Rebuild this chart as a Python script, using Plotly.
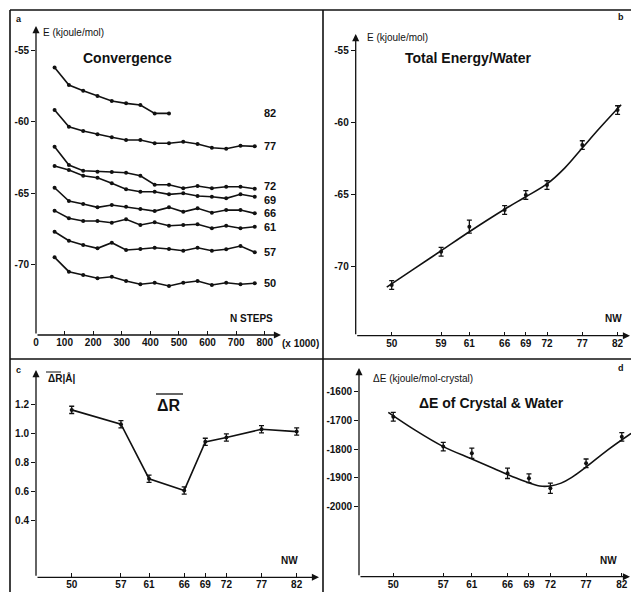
import plotly.graph_objects as go

# ---------------- data ----------------
steps = [65, 115, 165, 215, 265, 315, 365, 415, 465, 515, 565, 615, 665, 715, 765]
E82 = [-56.21, -57.44, -57.84, -58.21, -58.56, -58.72, -58.84, -59.42, -59.42]
E77 = [-59.19, -60.35, -60.65, -60.88, -61.09, -61.28, -61.28, -61.51, -61.51, -61.40, -61.56, -61.82, -61.89, -61.68, -61.72]
E72 = [-61.75, -63.03, -63.42, -63.49, -63.51, -63.56, -63.77, -64.40, -64.40, -64.65, -64.49, -64.65, -64.54, -64.54, -64.68]
E69 = [-63.09, -63.37, -63.77, -63.91, -64.30, -64.72, -64.89, -64.89, -65.07, -65.00, -65.19, -65.24, -65.35, -65.07, -65.24]
E66 = [-64.61, -65.54, -65.75, -65.98, -65.82, -65.94, -66.10, -66.24, -65.98, -66.29, -66.05, -66.36, -66.17, -66.17, -66.40]
E61 = [-66.21, -66.74, -66.93, -66.93, -67.05, -66.81, -67.21, -67.02, -67.26, -67.21, -67.16, -67.44, -67.26, -67.44, -67.33]
E57 = [-67.68, -68.31, -68.61, -68.84, -68.45, -68.96, -68.89, -68.80, -68.89, -69.01, -68.80, -69.01, -68.91, -68.68, -69.12]
E50 = [-69.47, -70.47, -70.70, -70.93, -70.82, -71.12, -71.35, -71.24, -71.47, -71.24, -71.12, -71.40, -71.24, -71.35, -71.28]
conv_series = [("82", E82), ("77", E77), ("72", E72), ("69", E69), ("66", E66), ("61", E61), ("57", E57), ("50", E50)]
step_ticks = [0, 100, 200, 300, 400, 500, 600, 700, 800]
step_ticktext = ["0", "100", "200", "300", "400", "500", "600", "700", "800"]

NW = [50, 57, 61, 66, 69, 72, 77, 82]
NW_ticktext_b = ["50", "59", "61", "66", "69", "72", "77", "82"]
NW_ticktext = ["50", "57", "61", "66", "69", "72", "77", "82"]

b_E = [-71.32, -69.01, -67.27, -66.11, -65.07, -64.38, -61.60, -59.17]
b_err = [0.3, 0.3, 0.45, 0.3, 0.3, 0.3, 0.3, 0.3]
b_fit_NW = [49.3, 53, 57, 61, 66, 69, 72, 74.5, 77, 79.5, 82.5]
b_fit_E = [-71.47, -70.25, -68.94, -67.62, -66.06, -65.19, -64.30, -63.20, -61.80, -60.40, -58.80]

c_R = [1.166, 1.067, 0.69, 0.609, 0.945, 0.975, 1.032, 1.016]
c_err = [0.025, 0.025, 0.025, 0.025, 0.025, 0.025, 0.025, 0.025]

d_E = [-1687, -1791, -1814, -1884, -1901, -1936, -1849, -1757]
d_err = [15, 15, 18, 18, 15, 18, 15, 15]
d_fit_NW = [49.3, 53, 57, 61, 64, 66, 68, 70.5, 72, 73.5, 75, 77, 80, 83.3]
d_fit_E = [-1672, -1733, -1791, -1834, -1866, -1888, -1908, -1928, -1928, -1918, -1898, -1862, -1803, -1745]

E_ticks = [-55, -60, -65, -70]
E_ticktext = ["-55", "-60", "-65", "-70"]
R_ticks = [1.2, 1.0, 0.8, 0.6, 0.4]
R_ticktext = ["1.2", "1.0", "0.8", "0.6", "0.4"]
dE_ticks = [-1600, -1700, -1800, -1900, -2000]
dE_ticktext = ["-1600", "-1700", "-1800", "-1900", "-2000"]

# ---------------- layout helpers ----------------
W, H = 631, 592
FONT = "Arial, Liberation Sans, Helvetica, sans-serif"
INK = "#111111"


def px(x):
    return x / W


def py(y):
    return 1 - y / H


tickfont = dict(family=FONT, size=10, color=INK, weight="bold")

fig = go.Figure()

# panel a
for name, vals in conv_series:
    fig.add_trace(go.Scatter(x=steps[:len(vals)], y=vals, mode="lines+markers",
                             line=dict(color=INK, width=1.6),
                             marker=dict(size=4, color=INK),
                             xaxis="x", yaxis="y", showlegend=False, name=name))

# panel b
fig.add_trace(go.Scatter(x=b_fit_NW, y=b_fit_E, mode="lines", line=dict(color=INK, width=1.6, shape="spline"),
                         xaxis="x2", yaxis="y2", showlegend=False))
fig.add_trace(go.Scatter(x=NW, y=b_E, mode="markers", marker=dict(size=4, color=INK),
                         error_y=dict(type="data", array=b_err, visible=True, thickness=1.3, width=2.5, color=INK),
                         xaxis="x2", yaxis="y2", showlegend=False))

# panel c
fig.add_trace(go.Scatter(x=NW, y=c_R, mode="lines+markers", line=dict(color=INK, width=1.6),
                         marker=dict(size=4, color=INK),
                         error_y=dict(type="data", array=c_err, visible=True, thickness=1.3, width=2.5, color=INK),
                         xaxis="x3", yaxis="y3", showlegend=False))

# panel d
fig.add_trace(go.Scatter(x=d_fit_NW, y=d_fit_E, mode="lines", line=dict(color=INK, width=1.6, shape="spline"),
                         xaxis="x4", yaxis="y4", showlegend=False))
fig.add_trace(go.Scatter(x=NW, y=d_E, mode="markers", marker=dict(size=4, color=INK),
                         error_y=dict(type="data", array=d_err, visible=True, thickness=1.3, width=2.5, color=INK),
                         xaxis="x4", yaxis="y4", showlegend=False))

common = dict(showgrid=False, zeroline=False, showline=False, tickfont=tickfont,
              tickcolor=INK, tickwidth=1, ticklen=4, automargin=False, fixedrange=True)

layout = dict(
    width=W, height=H, margin=dict(l=0, r=0, t=0, b=0),
    paper_bgcolor="white", plot_bgcolor="rgba(0,0,0,0)",
    showlegend=False,
    xaxis=dict(domain=[px(36), px(278)], range=[0, 846.2], anchor="y", tickmode="array",
               tickvals=step_ticks, ticktext=step_ticktext, ticks="inside", **common),
    yaxis=dict(domain=[py(335), py(28)], range=[-74.89, -53.46], anchor="x", tickmode="array",
               tickvals=E_ticks, ticktext=E_ticktext, ticks="outside", **common),
    xaxis2=dict(domain=[px(355.7), 1.0], range=[44.9, 83.9], anchor="y2", tickmode="array",
                tickvals=NW, ticktext=NW_ticktext_b, ticks="inside", **common),
    yaxis2=dict(domain=[py(335.7), py(30)], range=[-74.84, -53.61], anchor="x2", tickmode="array",
                tickvals=E_ticks, ticktext=E_ticktext, ticks="outside", **common),
    xaxis3=dict(domain=[px(36), px(317)], range=[44.92, 84.89], anchor="y3", tickmode="array",
                tickvals=NW, ticktext=NW_ticktext, ticks="inside", **common),
    yaxis3=dict(domain=[py(577.3), py(372)], range=[0.0084, 1.428], anchor="x3", tickmode="array",
                tickvals=R_ticks, ticktext=R_ticktext, ticks="outside", **common),
    xaxis4=dict(domain=[px(359), 1.0], range=[45.2, 83.29], anchor="y4", tickmode="array",
                tickvals=NW, ticktext=NW_ticktext, ticks="inside", **common),
    yaxis4=dict(domain=[py(576.7), py(370)], range=[-2243.5, -1524.5], anchor="x4", tickmode="array",
                tickvals=dE_ticks, ticktext=dE_ticktext, ticks="outside", **common),
)
fig.update_layout(**layout)

ann = []


def arrow(xt, yt, xs, ys):
    ann.append(dict(x=px(xt), y=py(yt), xref="paper", yref="paper", ax=xs - xt, ay=ys - yt,
                    axref="pixel", ayref="pixel", text="", showarrow=True, arrowhead=2,
                    arrowsize=1.1, arrowwidth=1.3, arrowcolor=INK))


arrow(36, 26, 36, 335)
arrow(281, 335, 36, 335)
arrow(355.7, 34, 355.7, 335.7)
arrow(630, 335.7, 355.7, 335.7)
arrow(36, 370, 36, 577.3)
arrow(319, 577.3, 36, 577.3)
arrow(359, 368, 359, 576.7)
arrow(630, 576.7, 359, 576.7)


def text(x, y, s, size=10, xanchor="left", bold=False):
    ann.append(dict(x=px(x), y=py(y), xref="paper", yref="paper", text=s, showarrow=False,
                    xanchor=xanchor, yanchor="middle",
                    font=dict(family=FONT, size=size, color=INK, weight="bold" if bold else "normal")))


# panel letters
text(14, 19, "a", 9, bold=True)
text(626, 17, "b", 9, "right", bold=True)
text(14, 370, "c", 9, bold=True)
text(626, 368, "d", 9, "right", bold=True)

# axis titles
text(41, 33, "E (kjoule/mol)", 10)
text(365, 37, "E (kjoule/mol)", 10)
text(46, 378, "ΔR|Å|", 10, bold=True)
text(371, 378, "ΔE (kjoule/mol-crystal)", 10)
text(252, 318, "N STEPS", 10, "center", bold=True)
text(280, 344, "(x 1000)", 10, bold=True)
text(613, 318, "NW", 10, "center", bold=True)
text(289, 560, "NW", 10, "center", bold=True)
text(608, 560, "NW", 10, "center", bold=True)

# panel titles
text(127, 58, "Convergence", 14, "center", bold=True)
text(468, 58, "Total Energy/Water", 14, "center", bold=True)
text(169, 405, "ΔR", 16, "center", bold=True)
text(491, 403, "ΔE of Crystal & Water", 14, "center", bold=True)

fig.update_layout(annotations=ann)

# series labels in panel a (small vertical nudges keep 72/69 apart as in the reference)
label_shift = {"72": 3, "69": -3}
for name, vals in conv_series:
    fig.add_annotation(x=px(262), y=vals[-1], xref="paper", yref="y", text=name, showarrow=False,
                       xanchor="left", yanchor="middle", yshift=label_shift.get(name, 0),
                       font=dict(family=FONT, size=11, color=INK, weight="bold"))

# borders and overlines
shapes = []
lw = 1.6
shapes.append(dict(type="line", xref="paper", yref="paper", x0=px(10), x1=1, y0=py(10), y1=py(10), line=dict(color=INK, width=lw)))
shapes.append(dict(type="line", xref="paper", yref="paper", x0=px(10), x1=px(10), y0=py(10), y1=0, line=dict(color=INK, width=lw)))
shapes.append(dict(type="line", xref="paper", yref="paper", x0=px(323), x1=px(323), y0=py(10), y1=0, line=dict(color=INK, width=lw)))
shapes.append(dict(type="line", xref="paper", yref="paper", x0=px(10), x1=1, y0=py(359), y1=py(359), line=dict(color=INK, width=lw)))
shapes.append(dict(type="line", xref="paper", yref="paper", x0=px(156), x1=px(183), y0=py(394), y1=py(394), line=dict(color=INK, width=1.3)))
shapes.append(dict(type="line", xref="paper", yref="paper", x0=px(46), x1=px(61), y0=py(372), y1=py(372), line=dict(color=INK, width=1)))
fig.update_layout(shapes=shapes)

fig.write_html("out.html", config={"displayModeBar": False},
               post_script="document.body.style.margin='0px';document.body.style.overflow='hidden';")
